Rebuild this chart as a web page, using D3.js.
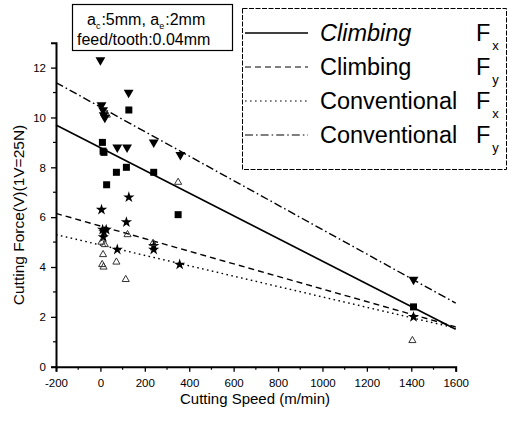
<!DOCTYPE html>
<html><head><meta charset="utf-8">
<script src="https://cdn.jsdelivr.net/npm/d3@7"></script>
<style>
html,body{margin:0;padding:0;background:#fff;}
svg{display:block;font-family:"Liberation Sans",Arial,sans-serif;}
</style></head>
<body>
<svg id="c" width="508" height="423"></svg>
<script>
// ---- data ----
const xTicks = [-200, 0, 200, 400, 600, 800, 1000, 1200, 1400, 1600];
const yTicks = [0, 2, 4, 6, 8, 10, 12];
const seriesNames = ["Climbing", "Climbing", "Conventional", "Conventional"];
const seriesSubs = ["x", "y", "x", "y"];
const climbingFx = [[9,9.0],[12,8.65],[16,8.6],[28,7.3],[72,7.8],[117,8.0],[128,10.3],[240,7.8],[350,6.1],[1410,2.4]];
const climbingFy = [[5,6.3],[117,5.8],[128,6.8],[10,5.5],[16,5.4],[26,5.5],[13,5.2],[76,4.7],[240,4.7],[240,4.85],[357,4.1],[1410,2.0]];
const conventionalFx = [[5,5.0],[12,4.5],[8,4.1],[14,4.0],[20,4.9],[72,4.2],[114,3.5],[122,5.3],[237,4.95],[350,7.4],[29,10.1],[1405,1.05]];
const conventionalFy = [[0,12.3],[127,11.0],[5,10.5],[12,10.3],[15,10.1],[20,10.0],[76,8.8],[120,8.8],[240,9.0],[360,8.5],[1410,3.5]];
const fitX = [-200, 1600];
const climbingFxFit = [9.7, 1.5];
const climbingFyFit = [6.15, 1.6];
const conventionalFxFit = [5.3, 1.55];
const conventionalFyFit = [11.4, 2.55];

const svg = d3.select("#c");
const x = d3.scaleLinear().domain([-200, 1600]).range([56, 455.7]);
const y = d3.scaleLinear().domain([0, 13]).range([366.7, 42.7]);

// axes
const xAxis = d3.axisBottom(x).tickValues(xTicks).tickSize(5).tickPadding(4).tickFormat(d => String(d));
const gx = svg.append("g").attr("transform", `translate(0,${y(0)})`).call(xAxis);
const yAxis = d3.axisLeft(y).tickValues(yTicks).tickSize(5).tickPadding(5).tickFormat(d => String(d));
const gy = svg.append("g").attr("transform", `translate(${x(-200)},0)`).call(yAxis);
[gx, gy].forEach(g => {
  g.select(".domain").attr("stroke", "#000").attr("stroke-width", 2);
  g.selectAll(".tick line").attr("stroke", "#000").attr("stroke-width", 1.3);
  g.selectAll(".tick text").attr("font-size", 11.5).attr("fill", "#000").attr("font-family", "Liberation Sans, Arial, sans-serif");
});
gx.selectAll(".tick text").attr("dy", "0.95em");
// minor ticks
const xMinor = d3.range(-100, 1600, 200);
svg.append("g").selectAll("line").data(xMinor).join("line")
  .attr("x1", d => x(d)).attr("x2", d => x(d)).attr("y1", y(0)).attr("y2", y(0) + 3)
  .attr("stroke", "#000").attr("stroke-width", 1.2);
const yMinor = d3.range(1, 13, 2);
svg.append("g").selectAll("line").data(yMinor).join("line")
  .attr("x1", x(-200) - 3).attr("x2", x(-200)).attr("y1", d => y(d)).attr("y2", d => y(d))
  .attr("stroke", "#000").attr("stroke-width", 1.2);

// axis titles
svg.append("text").attr("x", 255).attr("y", 404).attr("text-anchor", "middle")
  .attr("font-size", 15).text("Cutting Speed (m/min)");
svg.append("text").attr("transform", "translate(24,215) rotate(-90)").attr("text-anchor", "middle")
  .attr("font-size", 15.5).text("Cutting Force(V)(1V=25N)");

// fit lines
const fits = [climbingFxFit, climbingFyFit, conventionalFxFit, conventionalFyFit];
const dashes = [null, "6,4", "1.6,3.4", "8,3,1.6,3"];
const line = d3.line().x(d => x(d[0])).y(d => y(d[1]));
fits.forEach((f, i) => {
  svg.append("path").datum(fitX.map((xv, j) => [xv, f[j]]))
    .attr("d", line).attr("fill", "none").attr("stroke", "#000")
    .attr("stroke-width", i === 0 ? 1.6 : 1.4)
    .attr("stroke-dasharray", dashes[i]);
});

// markers
svg.append("g").selectAll("rect").data(climbingFx).join("rect")
  .attr("x", d => x(d[0]) - 3.5).attr("y", d => y(d[1]) - 3.5)
  .attr("width", 7).attr("height", 7).attr("fill", "#000");
svg.append("g").selectAll("path").data(climbingFy).join("path")
  .attr("transform", d => `translate(${x(d[0])},${y(d[1])})`)
  .attr("d", d3.symbol(d3.symbolStar, 40)).attr("fill", "#000");
svg.append("g").selectAll("path").data(conventionalFx).join("path")
  .attr("transform", d => `translate(${x(d[0])},${y(d[1])})`)
  .attr("d", d3.symbol(d3.symbolTriangle, 22)).attr("fill", "none").attr("stroke", "#333").attr("stroke-width", 1);
svg.append("g").selectAll("path").data(conventionalFy).join("path")
  .attr("transform", d => `translate(${x(d[0])},${y(d[1])}) rotate(180)`)
  .attr("d", d3.symbol(d3.symbolTriangle, 42)).attr("fill", "#000");

// annotation box
svg.append("rect").attr("x", 72.5).attr("y", 4.5).attr("width", 160).attr("height", 46)
  .attr("fill", "#fff").attr("stroke", "#000").attr("stroke-width", 1.2);
const t1 = svg.append("text").attr("x", 87).attr("y", 25).attr("font-size", 16);
t1.append("tspan").text("a");
t1.append("tspan").attr("font-size", 9).attr("dy", 4).text("c");
t1.append("tspan").attr("dy", -4).attr("dx", 1).text(":5mm, a");
t1.append("tspan").attr("font-size", 9).attr("dy", 4).text("e");
t1.append("tspan").attr("dy", -4).attr("dx", 1).text(":2mm");
svg.append("text").attr("x", 77).attr("y", 45).attr("font-size", 16).text("feed/tooth:0.04mm");

// legend
svg.append("rect").attr("x", 242.5).attr("y", 8.5).attr("width", 264).attr("height", 161)
  .attr("fill", "#fff").attr("stroke", "#000").attr("stroke-width", 1).attr("stroke-dasharray", "5,1.5");
const rowY = [33, 67, 101, 135];
seriesNames.forEach((n, i) => {
  svg.append("line").attr("x1", 245).attr("x2", 308).attr("y1", rowY[i]).attr("y2", rowY[i])
    .attr("stroke", "#000").attr("stroke-width", i === 0 ? 1.4 : 1.2)
    .attr("stroke-dasharray", dashes[i]);
  svg.append("text").attr("x", 320).attr("y", rowY[i] + 8).attr("font-size", 23.5)
    .attr("font-style", i === 0 ? "italic" : "normal").text(n);
  const f = svg.append("text").attr("x", 476).attr("y", rowY[i] + 8).attr("font-size", 23.5);
  f.append("tspan").text("F");
  f.append("tspan").attr("font-size", 13).attr("dx", 2).attr("dy", 9).text(seriesSubs[i]);
});
</script>
</body></html>
